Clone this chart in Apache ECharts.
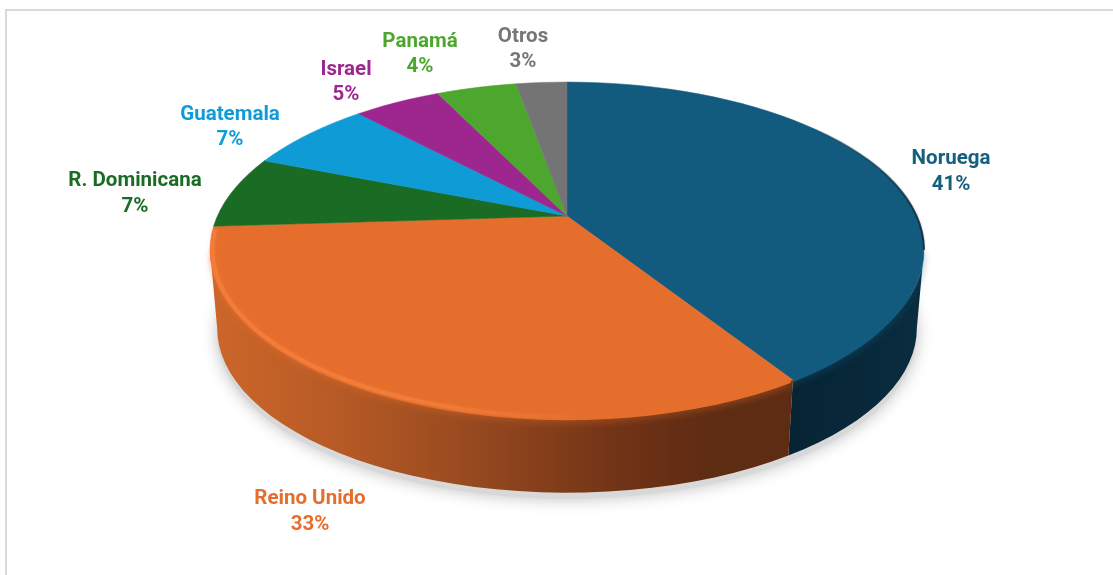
<!DOCTYPE html>
<html>
<head>
<meta charset="utf-8">
<style>html,body{margin:0;padding:0;background:#fff}#c{width:1113px;height:575px}</style>
<script src="https://cdn.jsdelivr.net/npm/echarts@6/dist/echarts.min.js"></script>
</head>
<body>
<div id="c"></div>
<script>
// Data
const categories = ['Noruega', 'Reino Unido', 'R. Dominicana', 'Guatemala', 'Israel', 'Panamá', 'Otros'];
const shares = [41.0, 33.0, 7.0, 7.0, 4.8, 4.4, 2.8];
const percentLabels = ['41%', '33%', '7%', '7%', '5%', '4%', '3%'];

// Styles
const faceColors = ['#135b7e', '#e56e2d', '#1a6b24', '#0e9bd6', '#9e278f', '#4da72e', '#747474'];
const labelColors = ['#15607f', '#e56e2d', '#1a6b24', '#0e9bd6', '#9e278f', '#4da72e', '#767676'];
const labelCenters = [[951,159,185],[310,499,525],[135,181,207],[230,115,140],[346,70,95],[420,42,67],[523,37,62]];
const wallGradients = [
  [[0,'#062434'],[1,'#0a2c3f']],
  [[0,'#cc6629'],[0.2,'#b85b26'],[0.45,'#96491f'],[0.7,'#713316'],[0.85,'#5e2c13'],[1,'#5e2c14']]
];
const geom = {cx:567, cy:216, a:349.6, b:161, k:0.202, depth:79, bottomScale:0.98, steps:3};
const labelFont = 'bold 20.5px Roboto, sans-serif';

// Projection of the tilted disc: perspective view of a unit circle
function project(deg, scale, dy) {
  const t = deg * Math.PI / 180, w = 1 + geom.k * Math.cos(t);
  return [geom.cx + scale * geom.a * Math.sin(t) / w,
          geom.cy + dy - scale * geom.b * Math.cos(t) / w];
}
function arc(d0, d1, scale, dy) {
  const n = Math.max(2, Math.ceil(Math.abs(d1 - d0) / geom.steps)), pts = [];
  for (let i = 0; i <= n; i++) pts.push(project(d0 + (d1 - d0) * i / n, scale, dy));
  return pts;
}
const total = shares.reduce((s, v) => s + v, 0);
const starts = [], ends = [];
shares.reduce((acc, v, i) => { starts[i] = acc / total * 360; ends[i] = (acc + v) / total * 360; return acc + v; }, 0);
const tangent = Math.acos(-geom.k) * 180 / Math.PI;
const visStart = tangent, visEnd = 360 - tangent;
function grad(x, x2, stops) {
  return {type:'linear', x:x, y:0, x2:x2, y2:0, global:true,
          colorStops:stops.map(s => ({offset:s[0], color:s[1]}))};
}
const tableData = categories.map((c, i) => ({name:c, value:[i, shares[i]]}));

function renderShadow(params) {
  if (params.dataIndex !== 0) return null;
  return {type:'polygon', silent:true,
    shape:{points:arc(0, 360, geom.bottomScale, geom.depth + 6)},
    style:{fill:'#d8d8d8', shadowBlur:16, shadowColor:'rgba(0,0,0,0.25)'}};
}
function renderWall(params) {
  const i = params.dataIndex, d0 = Math.max(starts[i], visStart), d1 = Math.min(ends[i], visEnd);
  if (d1 <= d0 || !wallGradients[i]) return null;
  const pts = arc(d0, d1, 1, 0).concat(arc(d1, d0, geom.bottomScale, geom.depth));
  return {type:'group', silent:true, children:[
    {type:'polygon', shape:{points:pts}, style:{fill:i === 1 ? grad(215, 795, wallGradients[i]) : grad(790, 920, wallGradients[i])}},
    {type:'polyline', shape:{points:arc(d0, d1, 0.99, 3)},
     style:{stroke:faceColors[i], fill:null, lineWidth:3, shadowBlur:8, shadowColor:faceColors[i]}}
  ]};
}
function renderFace(params) {
  const i = params.dataIndex;
  const pts = [[geom.cx, geom.cy]].concat(arc(starts[i], ends[i], 1, 0));
  return {type:'polygon', silent:true, shape:{points:pts},
    style:{fill:faceColors[i], stroke:faceColors[i], lineWidth:0.5}};
}
function renderRim(params) {
  const i = params.dataIndex;
  if (i === 1) {
    return {type:'polyline', silent:true, shape:{points:arc(starts[i] + 16, Math.min(ends[i], visEnd + 7), 0.993, 0)},
      style:{fill:null, lineWidth:4, shadowBlur:4, shadowColor:'rgba(248,130,60,0.45)',
        stroke:grad(210, 590, [[0,'rgba(246,128,58,0.75)'],[0.55,'rgba(248,132,62,0.6)'],[1,'rgba(248,132,62,0)']])}};
  }
  if (i === 0) {
    return {type:'polyline', silent:true, shape:{points:arc(48, visStart, 1, 0)},
      style:{fill:null, lineWidth:2, shadowBlur:2, shadowColor:'rgba(8,38,54,0.3)',
        stroke:grad(810, 925, [[0,'rgba(8,38,54,0)'],[1,'rgba(8,38,54,0.8)']])}};
  }
  return null;
}
function renderLabel(params) {
  const i = params.dataIndex, c = labelCenters[i];
  const t = (text, y) => ({type:'text', silent:true,
    style:{text:text, x:c[0], y:y, fill:labelColors[i], font:labelFont, align:'center', verticalAlign:'middle'}});
  return {type:'group', children:[t(categories[i], c[1]), t(percentLabels[i], c[2])]};
}
function layer(fn, z) {
  return {type:'custom', coordinateSystem:'none', renderItem:fn, data:tableData, z:z, silent:true, animation:false, clip:false};
}
const chart = echarts.init(document.getElementById('c'), null, {renderer:'canvas'});
chart.setOption({
  backgroundColor:'#fff',
  animation:false,
  graphic:[
    {type:'rect', silent:true, z:0, shape:{x:5, y:9, width:1108, height:2}, style:{fill:'#d9d9d9'}},
    {type:'rect', silent:true, z:0, shape:{x:5, y:9, width:2, height:566}, style:{fill:'#d9d9d9'}}
  ],
  series:[layer(renderShadow,1), layer(renderWall,2), layer(renderFace,3), layer(renderRim,4), layer(renderLabel,5)]
});
</script>
</body>
</html>
